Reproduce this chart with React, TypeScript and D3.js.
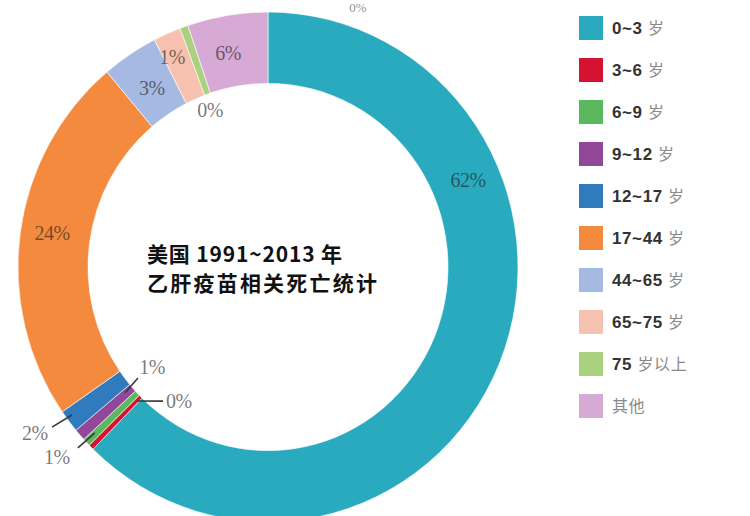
import React from 'react';
import * as d3 from 'd3';

// ---- data ----
const legendNumbers = ['0~3', '3~6', '6~9', '9~12', '12~17', '17~44', '44~65', '65~75', '75', ''];
const legendUnits = ['岁', '岁', '岁', '岁', '岁', '岁', '岁', '岁', '岁以上', '其他'];
const shares = [62.33, 0.35, 0.5, 0.76, 1.44, 23.47, 3.64, 1.78, 0.53, 5.19];
const percentLabels = ['62%', '0%', '1%', '1%', '2%', '24%', '3%', '1%', '0%', '6%'];
const sliceColors = ['#2aaabf', '#d5122f', '#5cb85c', '#91479a', '#2f7bbd', '#f38a3d', '#a6b9e2', '#f7c1af', '#a9d17f', '#d7a9d5'];
const titleLines = ['美国 1991~2013 年', '乙肝疫苗相关死亡统计'];
const clippedTopLabel = '0%';

// ---- layout (not data) ----
const W = 750, H = 516;
const CX = 268, CY = 267, R_OUT = 250, R_IN = 180, Y_SCALE = 1.02;

type Pol = [number, number]; // [deg clockwise from top, radius]
type LabelLayout = { text: Pol; anchor?: string; line?: [Pol, Pol] };
const labelLayout: LabelLayout[] = [
  { text: [66.9, 217.4] },
  { text: [217.8, 166.5], anchor: 'start', line: [[224.9, 185.5], [218.6, 168.2]] },
  { text: [228.6, 281.5], line: [[226.8, 237.5], [227.0, 260]] },
  { text: [229.8, 151.9], line: [[229.2, 189], [230.1, 169.5]] },
  { text: [235.1, 284.2], line: [[233.5, 243.9], [234.0, 267]] },
  { text: [278.8, 218.6] },
  { text: [326.5, 210.4] },
  { text: [335.0, 227.2] },
  { text: [339.4, 164.5] },
  { text: [349.2, 213.6] },
];

const toXY = ([deg, r]: Pol): [number, number] => {
  const a = (deg * Math.PI) / 180;
  return [CX + r * Math.sin(a), CY - Y_SCALE * r * Math.cos(a)];
};

export default function App() {
  const pie = d3.pie<number>().sort(null).value((d) => d);
  const arcs = pie(shares);
  const arcGen = d3.arc<d3.PieArcDatum<number>>().innerRadius(R_IN).outerRadius(R_OUT);

  const legendY = d3.scaleLinear().domain([0, 1]).range([28, 70]);

  return (
    <svg
      width={W}
      height={H}
      viewBox={`0 0 ${W} ${H}`}
      style={{ position: 'fixed', left: 0, top: 0, background: '#fff' }}
    >
      <rect width={W} height={H} fill="#fff" />
      <g transform={`translate(${CX},${CY}) scale(1,${Y_SCALE})`}>
        {arcs.map((a, i) => (
          <path key={i} d={arcGen(a) || ''} fill={sliceColors[i]} stroke="#fff" strokeWidth={0.6} />
        ))}
      </g>

      {labelLayout.map((l, i) => {
        const [tx, ty] = toXY(l.text);
        return (
          <g key={i}>
            {l.line && (
              <line
                x1={toXY(l.line[0])[0]}
                y1={toXY(l.line[0])[1]}
                x2={toXY(l.line[1])[0]}
                y2={toXY(l.line[1])[1]}
                stroke="#3a3a3a"
                strokeWidth={1.6}
              />
            )}
            <text
              x={tx}
              y={ty}
              dy="0.35em"
              textAnchor={l.anchor || 'middle'}
              fontFamily="'Liberation Serif', 'DejaVu Serif', serif"
              fontSize={20}
              fill="#1e1e1e"
              fillOpacity={0.62}
              letterSpacing={-0.5}
            >
              {percentLabels[i]}
            </text>
          </g>
        );
      })}

      <text
        x={358}
        y={12}
        textAnchor="middle"
        fontFamily="'Liberation Serif', serif"
        fontSize={13}
        fill="#1e1e1e"
        fillOpacity={0.55}
      >
        {clippedTopLabel}
      </text>

      <g fontFamily="'Noto Sans CJK SC', sans-serif" fontWeight="bold" fill="#111">
        <text x={147} y={262} fontSize={21} textLength={195} lengthAdjust="spacing">
          {titleLines[0]}
        </text>
        <text x={147} y={291} fontSize={21} textLength={230} lengthAdjust="spacing">
          {titleLines[1]}
        </text>
      </g>

      <g>
        {legendUnits.map((u, i) => {
          const y = legendY(i);
          return (
            <g key={i}>
              <rect x={579} y={y - 12} width={24} height={24} fill={sliceColors[i]} />
              <text
                x={612}
                y={y}
                dy="0.36em"
                fontSize={17}
                fontFamily="'Liberation Sans', Arial, sans-serif"
                letterSpacing={0.6}
              >
                {legendNumbers[i] && (
                  <tspan fontWeight="bold" fill="#333">
                    {legendNumbers[i] + ' '}
                  </tspan>
                )}
                <tspan fill="#8a8a8a" fontFamily="'Noto Sans CJK SC', sans-serif" fontSize={16}>
                  {u}
                </tspan>
              </text>
            </g>
          );
        })}
      </g>
    </svg>
  );
}
